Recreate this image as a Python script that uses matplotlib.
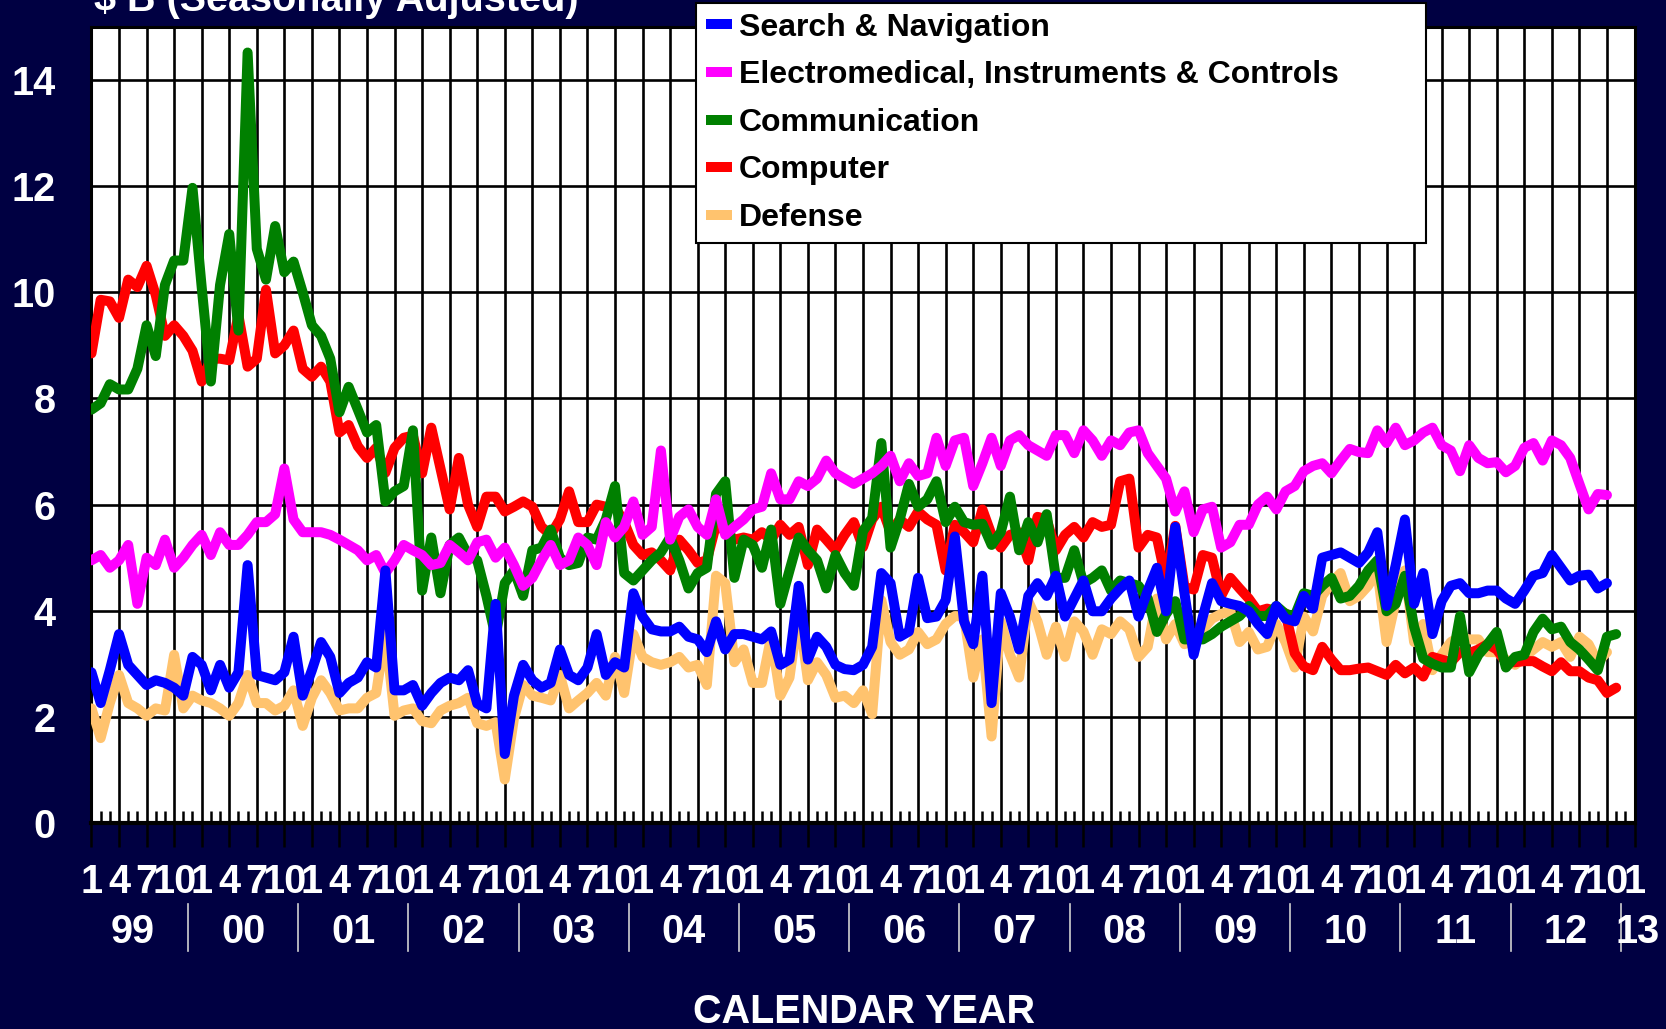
import numpy as np
import matplotlib
matplotlib.use('Agg')
import matplotlib.pyplot as plt

plt.rcParams['font.family'] = ['Liberation Sans', 'DejaVu Sans']
plt.rcParams['font.weight'] = 'bold'

# monthly values, $B, Jan 1999 onwards
search_nav = [2.84, 2.26, 2.88, 3.56, 2.98, 2.79, 2.6, 2.69, 2.64, 2.55, 2.4, 3.13,
              2.98, 2.5, 2.98, 2.55, 2.84, 4.86, 2.79, 2.74, 2.69, 2.84, 3.51, 2.4,
              2.88, 3.41, 3.13, 2.45, 2.64, 2.74, 3.03, 2.93, 4.76, 2.5, 2.5, 2.6,
              2.21, 2.45, 2.64, 2.74, 2.69, 2.88, 2.25, 2.16, 4.13, 1.3, 2.4, 2.98,
              2.69, 2.55, 2.64, 3.27, 2.79, 2.69, 2.93, 3.56, 2.79, 3.03, 2.93, 4.33,
              3.89, 3.65, 3.61, 3.61, 3.7, 3.51, 3.46, 3.22, 3.8, 3.27, 3.56, 3.56,
              3.51, 3.46, 3.61, 2.98, 3.08, 4.47, 3.08, 3.51, 3.32, 2.98, 2.9, 2.88,
              2.98, 3.32, 4.71, 4.52, 3.51, 3.61, 4.62, 3.86, 3.89, 4.2, 5.4, 3.8,
              3.37, 4.66, 2.26, 4.33, 3.89, 3.27, 4.28, 4.52, 4.28, 4.66, 3.89, 4.23,
              4.57, 3.99, 3.99, 4.23, 4.42, 4.57, 3.89, 4.38, 4.81, 3.99, 5.58, 4.33,
              3.17, 3.89, 4.52, 4.18, 4.13, 4.09, 3.99, 3.75, 3.56, 4.09, 3.85, 3.8,
              4.28, 4.04, 5.0, 5.05, 5.1, 5.0, 4.9, 5.1, 5.48, 4.09, 4.86, 5.72,
              4.13, 4.71, 3.56, 4.18, 4.47, 4.52, 4.33, 4.33, 4.38, 4.38, 4.23, 4.13,
              4.38, 4.66, 4.71, 5.05, 4.81, 4.57, 4.66, 4.68, 4.42, 4.52]

electromed = [4.95, 5.05, 4.81, 4.95, 5.24, 4.13, 5.0, 4.86, 5.34, 4.81, 5.0, 5.24,
              5.43, 5.05, 5.48, 5.24, 5.24, 5.43, 5.67, 5.67, 5.82, 6.68, 5.72, 5.48,
              5.48, 5.48, 5.43, 5.34, 5.24, 5.14, 4.95, 5.05, 4.71, 4.95, 5.24, 5.14,
              5.05, 4.86, 4.9, 5.24, 5.1, 4.95, 5.29, 5.34, 5.0, 5.19, 4.86, 4.47,
              4.62, 4.95, 5.24, 4.86, 4.95, 5.38, 5.24, 4.86, 5.67, 5.38, 5.58, 6.06,
              5.43, 5.58, 7.02, 5.34, 5.77, 5.91, 5.58, 5.43, 6.1, 5.43, 5.58, 5.72,
              5.91, 5.96, 6.59, 6.1, 6.1, 6.44, 6.35, 6.49, 6.83, 6.59, 6.49, 6.39,
              6.49, 6.59, 6.73, 6.92, 6.44, 6.78, 6.54, 6.59, 7.26, 6.73, 7.21, 7.26,
              6.35, 6.78, 7.26, 6.73, 7.21, 7.31, 7.12, 7.02, 6.92, 7.31, 7.31, 6.97,
              7.4, 7.21, 6.92, 7.21, 7.12, 7.36, 7.4, 6.97, 6.73, 6.49, 5.87, 6.25,
              5.48, 5.91, 5.96, 5.19, 5.29, 5.62, 5.62, 6.0, 6.15, 5.91, 6.25, 6.35,
              6.63, 6.73, 6.78, 6.59, 6.83, 7.05, 6.99, 6.97, 7.4, 7.16, 7.45, 7.12,
              7.21, 7.36, 7.45, 7.12, 7.02, 6.63, 7.12, 6.88, 6.78, 6.8, 6.61, 6.73,
              7.07, 7.16, 6.83, 7.21, 7.12, 6.88, 6.39, 5.91, 6.2, 6.18]

communication = [7.79, 7.91, 8.27, 8.17, 8.17, 8.56, 9.38, 8.8, 10.14, 10.6, 10.6, 11.97,
                 10.1, 8.32, 10.14, 11.1, 9.28, 14.52, 10.82, 10.24, 11.25, 10.38, 10.58, 10.0,
                 9.38, 9.18, 8.75, 7.74, 8.22, 7.79, 7.36, 7.5, 6.06, 6.25, 6.35, 7.4,
                 4.38, 5.38, 4.33, 5.24, 5.38, 5.05, 4.95, 4.28, 3.51, 4.52, 4.76, 4.28,
                 5.14, 5.19, 5.53, 5.0, 4.86, 4.9, 5.38, 5.34, 5.72, 6.35, 4.71, 4.57,
                 4.76, 4.95, 5.1, 5.38, 4.95, 4.42, 4.71, 4.81, 6.2, 6.44, 4.62, 5.34,
                 5.24, 4.81, 5.53, 4.13, 4.76, 5.38, 5.14, 4.95, 4.42, 5.05, 4.71, 4.47,
                 5.5, 5.75, 7.16, 5.19, 5.72, 6.39, 5.96, 6.1, 6.44, 5.67, 5.96, 5.67,
                 5.62, 5.64, 5.24, 5.48, 6.15, 5.14, 5.67, 5.29, 5.82, 4.62, 4.62, 5.14,
                 4.52, 4.62, 4.76, 4.38, 4.57, 4.52, 4.47, 4.23, 3.6, 3.94, 4.18, 3.46,
                 3.46, 3.46, 3.56, 3.7, 3.8, 3.9, 4.09, 3.9, 3.9, 4.09, 3.94, 3.9,
                 4.33, 4.28, 4.47, 4.62, 4.23, 4.28, 4.47, 4.76, 4.95, 3.99, 4.13, 4.66,
                 3.7, 3.1, 3.0, 2.93, 2.93, 3.9, 2.84, 3.17, 3.37, 3.6, 2.93, 3.13,
                 3.17, 3.6, 3.85, 3.65, 3.7, 3.41, 3.27, 3.08, 2.88, 3.51, 3.56]

computer = [8.85, 9.86, 9.83, 9.52, 10.24, 10.1, 10.5, 9.95, 9.18, 9.38, 9.18, 8.9,
            8.32, 8.75, 8.75, 8.72, 9.57, 8.6, 8.75, 10.05, 8.85, 9.0, 9.28, 8.56,
            8.41, 8.6, 8.32, 7.36, 7.5, 7.1, 6.88, 7.07, 6.6, 7.07, 7.26, 7.3,
            6.59, 7.45, 6.68, 5.91, 6.88, 6.0, 5.58, 6.15, 6.15, 5.87, 5.96, 6.06,
            5.96, 5.58, 5.43, 5.72, 6.25, 5.67, 5.67, 6.0, 5.96, 5.96, 5.67, 5.24,
            5.05, 5.1, 4.95, 4.76, 5.34, 5.14, 4.9, 4.95, 5.62, 5.5, 5.34, 5.38,
            5.34, 5.48, 5.34, 5.62, 5.43, 5.58, 4.86, 5.53, 5.34, 5.14, 5.43, 5.67,
            5.2, 5.72, 5.96, 5.48, 5.72, 5.58, 5.87, 5.72, 5.62, 4.76, 5.62, 5.48,
            5.29, 5.91, 5.43, 5.19, 5.43, 5.48, 4.95, 5.77, 5.72, 5.14, 5.43, 5.58,
            5.38, 5.67, 5.58, 5.62, 6.44, 6.49, 5.19, 5.43, 5.38, 4.57, 5.6, 4.45,
            4.4, 5.05, 5.0, 4.28, 4.62, 4.42, 4.23, 3.99, 4.04, 3.99, 3.95, 3.2,
            2.95, 2.88, 3.32, 3.08, 2.88, 2.88, 2.91, 2.93, 2.86, 2.79, 2.98, 2.82,
            2.93, 2.76, 3.13, 3.08, 3.03, 3.22, 3.2, 3.27, 3.37, 3.27, 3.03, 3.03,
            3.05, 3.05, 2.95, 2.86, 3.03, 2.86, 2.86, 2.74, 2.69, 2.45, 2.55]

defense = [2.16, 1.6, 2.26, 2.79, 2.26, 2.16, 2.02, 2.16, 2.12, 3.17, 2.16, 2.4,
           2.31, 2.26, 2.16, 2.02, 2.26, 2.79, 2.26, 2.26, 2.12, 2.21, 2.5, 1.83,
           2.36, 2.69, 2.45, 2.12, 2.16, 2.16, 2.36, 2.45, 3.61, 2.02, 2.12, 2.16,
           1.92, 1.88, 2.12, 2.21, 2.26, 2.36, 1.88, 1.83, 1.9, 0.82, 1.97, 2.6,
           2.4, 2.36, 2.31, 2.79, 2.16, 2.31, 2.45, 2.64, 2.4, 3.13, 2.45, 3.56,
           3.13, 3.03, 2.98, 3.03, 3.13, 2.93, 2.98, 2.6, 4.66, 4.52, 3.03, 3.27,
           2.64, 2.64, 3.51, 2.4, 2.74, 3.99, 2.69, 3.03, 2.79, 2.36, 2.4, 2.26,
           2.5, 2.05, 4.2, 3.41, 3.17, 3.27, 3.6, 3.37, 3.46, 3.75, 3.9, 3.89,
           2.74, 3.46, 1.63, 3.8, 3.17, 2.74, 4.18, 3.8, 3.17, 3.7, 3.13, 3.8,
           3.61, 3.17, 3.65, 3.56, 3.8, 3.65, 3.13, 3.32, 4.23, 3.46, 3.75, 3.37,
           3.46, 3.65, 3.85, 3.94, 3.99, 3.41, 3.6, 3.27, 3.32, 3.75, 3.41, 2.93,
           3.89, 3.61, 4.28, 4.52, 4.71, 4.18, 4.28, 4.47, 4.76, 3.41, 4.18, 4.76,
           3.41, 3.75, 2.88, 3.17, 3.41, 3.51, 3.46, 3.46, 3.22, 3.22, 3.08, 2.98,
           3.13, 3.27, 3.41, 3.32, 3.41, 3.13, 3.51, 3.37, 3.03, 3.22]

series_names = ['Search & Navigation', 'Electromedical, Instruments & Controls',
                'Communication', 'Computer', 'Defense']
series_colors = ['#0000FF', '#FF00FF', '#008000', '#FF0000', '#FFC36E']
month_labels = ['1', '4', '7', '10']
year_labels = ['99', '00', '01', '02', '03', '04', '05', '06', '07', '08',
               '09', '10', '11', '12', '13']

bg = '#000042'
lw = 7.2
fig = plt.figure(figsize=(16.66, 10.29), dpi=100, facecolor=bg)
ax = fig.add_axes([0.0549, 0.2002, 0.9262, 0.7735])
ax.set_facecolor('white')

all_series = [search_nav, electromed, communication, computer, defense]
zorders = [7, 6, 5, 4, 3]
for vals, name, col, z in zip(all_series, series_names, series_colors, zorders):
    xs = np.arange(len(vals))
    ax.plot(xs, vals, color=col, lw=lw, label=name, zorder=z,
            solid_capstyle='round', solid_joinstyle='round')

n_months = 12 * (len(year_labels) - 1)
ax.set_xlim(0, n_months)
ax.set_ylim(0, 15)
ax.set_yticks(np.arange(0, 15, 2))
ax.set_xticks(np.arange(0, n_months + 1, 3))
ax.set_xticklabels([month_labels[k % 4] for k in range(n_months // 3 + 1)])
ax.set_xticks(np.arange(0, n_months + 1, 1), minor=True)

ax.set_axisbelow(True)
ax.grid(True, which='major', color='black', lw=1.9)
ax.tick_params(axis='y', length=0, pad=26, labelsize=28.5, labelcolor='white')
ax.tick_params(axis='x', which='major', direction='out', length=17, width=1.8,
               color='black', pad=12, labelsize=28.5, labelcolor='white')
ax.tick_params(axis='x', which='minor', direction='in', length=8.6, width=1.8,
               color='black')
for sp in ax.spines.values():
    sp.set_color('black')
    sp.set_linewidth(2.2)
ax.spines['bottom'].set_linewidth(3)

# year labels and separators under the month labels
trans = ax.get_xaxis_transform()
for k, yl in enumerate(year_labels):
    xpos = 12 * k + 4.5 if k < len(year_labels) - 1 else 12 * k + 0.3
    ax.text(xpos, -0.1508, yl, transform=trans, ha='center', va='baseline',
            color='white', fontsize=28.5, fontweight='bold', clip_on=False)
    if k > 0:
        ax.plot([12 * k - 1.5, 12 * k - 1.5], [-0.1018, -0.1608], transform=trans,
                color='#D0D0D0', lw=1.2, clip_on=False)

fig.text(0.5184, 0.0058, 'CALENDAR YEAR', ha='center', va='baseline',
         color='white', fontsize=28.5, fontweight='bold')
fig.text(0.0564, 0.9893, r'\$ B (Seasonally Adjusted)', ha='left', va='baseline',
         color='white', fontsize=28.5, fontweight='bold')

leg = ax.legend(loc='upper left', bbox_to_anchor=(0.4178, 0.997, 0.4382, 0),
                bbox_transform=fig.transFigure, mode='expand', borderaxespad=0,
                fontsize=23, handlelength=0.83, handletextpad=0.2,
                labelspacing=0.55, borderpad=0.3, fancybox=False, framealpha=1,
                edgecolor='black')
leg.get_frame().set_linewidth(1.5)
leg.set_zorder(20)
for lh in leg.get_lines():
    lh.set_solid_capstyle('butt')
    lh.set_linewidth(lw)

fig.savefig('out.png', dpi=100, facecolor=bg)
